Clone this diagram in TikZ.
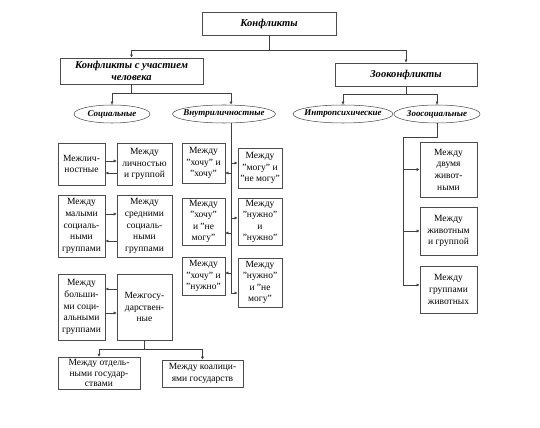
\documentclass[tikz,border=0pt]{standalone}
\usepackage{fontspec}
\setmainfont{Liberation Serif}
\usetikzlibrary{shapes.geometric,arrows.meta}

\begin{document}
\begin{tikzpicture}[x = 0.3333mm, y = -0.3333mm, line width = 0.5pt,
                      box/.style = {rectangle, draw = black!70, align = center, inner sep = 1pt,
                                    font = \fontsize{9}{11}\selectfont},
                      head/.style = {rectangle, draw = black!70, align = center, inner sep = 1pt,
                                     font = \fontsize{10}{12}\selectfont\bfseries\itshape},
                      oval/.style = {ellipse, draw = black!70, inner xsep = -4pt, inner ysep = 0pt,
                                     minimum height = 6mm,
                                     font = \fontsize{8.5}{10}\selectfont\bfseries\itshape},
                      link/.style = {draw = black!75},
                      arr/.style = {link, -{Latex[length = 3pt, width = 3pt]}}]
    \useasboundingbox (0, 0) rectangle (540, 428);

    % top levels
    \node [head, minimum width = 44.7mm, minimum height = 7.7mm] (k0) at (269, 23.5) {Конфликты};
    \node [head, minimum width = 47.7mm, minimum height = 8.7mm] (k1) at (131.5, 71) {Конфликты с участием\\человека};
    \node [head, minimum width = 47.3mm, minimum height = 7.7mm] (k2) at (406, 74.5) {Зооконфликты};

    \node [oval, minimum width = 25.3mm] (e1) at (112, 114) {Социальные};
    \node [oval, minimum width = 32.7mm] (e2) at (224, 114) {Внутриличностные};
    \node [oval, minimum width = 33.3mm] (e3) at (343, 114) {Интропсихические};
    \node [oval, minimum width = 28.7mm] (e4) at (437, 114) {Зоосоциальные};

    % social
    \node [box, minimum width = 15.7mm, minimum height = 14mm] (s1) at (81.5, 164) {Межлич-\\ностные};
    \node [box, minimum width = 18.3mm, minimum height = 14mm] (s2) at (144.5, 164) {Между\\личностью\\и группой};
    \node [box, minimum width = 15.7mm, minimum height = 20.7mm] (s3) at (81.5, 226) {Между\\малыми\\социаль-\\ными\\группами};
    \node [box, minimum width = 18.3mm, minimum height = 20.7mm] (s4) at (144.5, 226) {Между\\средними\\социаль-\\ными\\группами};
    \node [box, minimum width = 15.7mm, minimum height = 22mm] (s5) at (81.5, 307) {Между\\больши-\\ми соци-\\альными\\группами};
    \node [box, minimum width = 18.3mm, minimum height = 22mm] (s6) at (144.5, 307) {Межгосу-\\дарствен-\\ные};
    \node [box, inner ysep = 2pt, font = \fontsize{9}{10}\selectfont, minimum width = 27.3mm,
           minimum height = 10.5mm] (s7) at (99, 373) {Между отдель-\\ными государ-\\ствами};
    \node [box, minimum width = 27mm, minimum height = 9mm] (s8) at (202.5, 373.5) {Между коалици-\\ями государств};

    % inner
    \node [box, minimum width = 14.3mm, minimum height = 13.3mm] (v1) at (203.5, 163) {Между\\"хочу" и\\"хочу"};
    \node [box, minimum width = 14.7mm, minimum height = 13.3mm] (v2) at (260, 168) {Между\\"могу" и\\"не могу"};
    \node [box, minimum width = 14.3mm, minimum height = 15.7mm] (v3) at (203.5, 221.5) {Между\\"хочу"\\и "не\\могу"};
    \node [box, minimum width = 14.7mm, minimum height = 15.7mm] (v4) at (260, 221.5) {Между\\"нужно"\\и\\"нужно"};
    \node [box, minimum width = 14.3mm, minimum height = 12.7mm] (v5) at (203.5, 276) {Между\\"хочу" и\\"нужно"};
    \node [box, minimum width = 14.7mm, minimum height = 16.3mm] (v6) at (260, 282.5) {Между\\"нужно"\\и "не\\могу"};

    % zoo
    \node [box, minimum width = 19mm, minimum height = 18.3mm] (z1) at (448.5, 169.5) {Между\\двумя\\живот-\\ными};
    \node [box, minimum width = 19mm, minimum height = 16mm] (z2) at (448.5, 231) {Между\\животным\\и группой};
    \node [box, minimum width = 19mm, minimum height = 15.7mm] (z3) at (448.5, 289.5) {Между\\группами\\животных};

    \coordinate (j0) at (269, 50);
    \coordinate (j1) at (131.5, 93);
    \coordinate (j2) at (406, 94);
    \coordinate (j3) at (144.5, 349);
    \coordinate (vt) at (231, 293);
    \draw [link] (k0) -- (j0);
    \draw [arr] (j0) -| (k1);
    \draw [arr] (j0) -| (k2);
    \draw [link] (k1) -- (j1);
    \draw [arr] (j1) -| (e1);
    \draw [arr] (j1) -| (e2.north -| vt);
    \draw [link] (k2) -- (j2);
    \draw [arr] (j2) -| (e3);
    \draw [arr] (j2) -| (e4);

    \draw [arr] ([yshift = 1mm]s1.east) -- ([yshift = 1mm]s2.west);
    \draw [arr] ([yshift = -3mm]s2.west) -- ([yshift = -3mm]s1.east);
    \draw [arr] ([yshift = 4mm]s3.east) -- ([yshift = 4mm]s4.west);
    \draw [arr] ([yshift = -5mm]s4.west) -- ([yshift = -5mm]s3.east);
    \draw [arr] ([yshift = 6mm]s6.west) -- ([yshift = 6mm]s5.east);
    \draw [arr] ([yshift = -2mm]s5.east) -- ([yshift = -2mm]s6.west);
    \draw [link] (s6) -- (j3);
    \draw [arr] (j3) -| (s7);
    \draw [arr] (j3) -| (s8);

    \coordinate (b1) at (231, 163);
    \coordinate (b2) at (231, 173);
    \coordinate (b3) at (231, 218);
    \coordinate (b4) at (231, 233);
    \coordinate (b5) at (231, 273);
    \draw [link] (e2.south -| vt) -- (vt);
    \draw [arr] (b1) -- (b1 -| v2.west);
    \draw [arr] (b2) -- (b2 -| v1.east);
    \draw [arr] (b3) -- (b3 -| v4.west);
    \draw [arr] (b4) -- (b4 -| v3.east);
    \draw [arr] (b5) -- (b5 -| v5.east);
    \draw [arr] (vt) -- (vt -| v6.west);

    \coordinate (zc) at (403, 137);
    \coordinate (zt) at (403, 285);
    \draw [link] (e4.south) |- (zc) -- (zt);
    \draw [arr] (zt |- z1) -- (z1);
    \draw [arr] (zt |- z2) -- (z2);
    \draw [arr] (zt) -- (zt -| z3.west);
\end{tikzpicture}
\end{document}
